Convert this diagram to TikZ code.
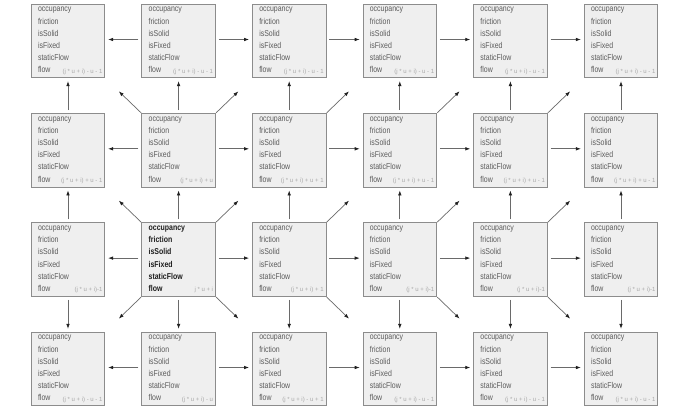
\documentclass[tikz,border=0pt]{standalone}
\usepackage{fontspec}
\usetikzlibrary{arrows.meta}
\newfontfamily\cellfont[FakeStretch=0.82]{Liberation Sans}
\newfontfamily\idxfont{Liberation Sans}
\definecolor{cellfill}{HTML}{EFEFEF}
\definecolor{cellline}{HTML}{8C8C8C}
\definecolor{celltext}{HTML}{5C5C5C}
\definecolor{boldtext}{HTML}{1E1E1E}
\definecolor{idxcol}{HTML}{A8A8A8}
\definecolor{arrline}{HTML}{6A6A6A}
\definecolor{arrhead}{HTML}{202020}
\newcommand\fieldstack{\vtop{\baselineskip=12.2pt\lineskiplimit=-20pt\lineskip=0pt
  \hbox{occupancy}\hbox{friction}\hbox{isSolid}\hbox{isFixed}\hbox{staticFlow}\hbox{flow}}}
\newcommand\cell[5]{%
  \node[cellbox] (b#1) at (#2,-#3) {};
  \node[fieldtext,#5,anchor=base west] (t#1) at ([shift={(7pt,-8pt)}]b#1.north west) {\fieldstack};
  \node[idxtext,anchor=base east] (l#1) at ([shift={(-2.5pt,5pt)}]b#1.south east) {#4};
}
\begin{document}
\begin{tikzpicture}[x=1pt,y=1pt,
  cellbox/.style={draw=cellline, fill=cellfill, line width=0.8pt, minimum width=73.5pt, minimum height=73.5pt, inner sep=0pt},
  fieldtext/.style={inner sep=0pt, font=\cellfont\fontsize{8.5}{12.2}\selectfont, text=celltext},
  boldfields/.style={font=\cellfont\bfseries\fontsize{8.5}{12.2}\selectfont, text=boldtext},
  idxtext/.style={inner sep=0pt, font=\idxfont\fontsize{6}{7}\selectfont, text=idxcol},
  arr/.style={draw=arrline, line width=0.7pt, -{Latex[length=5pt,width=3.6pt,color=arrhead]}, shorten >=3pt, shorten <=3pt},
  diag/.style={arr, shorten >=19pt, shorten <=0.5pt}]
\fill[white] (0,0) rectangle (699,-413);
\useasboundingbox (0,0) rectangle (699,-413);
% row 1
\cell{11}{68}{41}{(j * u + i) - u - 1}{}
\cell{12}{178.6}{41}{(j * u + i) - u - 1}{}
\cell{13}{289.2}{41}{(j * u + i) - u - 1}{}
\cell{14}{399.8}{41}{(j * u + i) - u - 1}{}
\cell{15}{510.4}{41}{(j * u + i) - u - 1}{}
\cell{16}{621}{41}{(j * u + i) - u - 1}{}
% row 2
\cell{21}{68}{150.3}{(j * u + i) + u - 1}{}
\cell{22}{178.6}{150.3}{(j * u + i) + u}{}
\cell{23}{289.2}{150.3}{(j * u + i) + u + 1}{}
\cell{24}{399.8}{150.3}{(j * u + i) + u - 1}{}
\cell{25}{510.4}{150.3}{(j * u + i) + u - 1}{}
\cell{26}{621}{150.3}{(j * u + i) + u - 1}{}
% row 3
\cell{31}{68}{259.6}{(j * u + i)-1}{}
\cell{32}{178.6}{259.6}{j * u + i}{boldfields}
\cell{33}{289.2}{259.6}{(j * u + i) + 1}{}
\cell{34}{399.8}{259.6}{(j * u + i)-1}{}
\cell{35}{510.4}{259.6}{(j * u + i)-1}{}
\cell{36}{621}{259.6}{(j * u + i)-1}{}
% row 4
\cell{41}{68}{369}{(j * u + i) - u - 1}{}
\cell{42}{178.6}{369}{(j * u + i) - u}{}
\cell{43}{289.2}{369}{(j * u + i) - u + 1}{}
\cell{44}{399.8}{369}{(j * u + i) - u - 1}{}
\cell{45}{510.4}{369}{(j * u + i) - u - 1}{}
\cell{46}{621}{369}{(j * u + i) - u - 1}{}
% horizontal connectors
\foreach \r in {1,2,3,4}{
  \draw[arr] ([yshift=1.5pt]b\r2.west) -- ([yshift=1.5pt]b\r1.east);
  \foreach \c in {2,3,4,5}{
    \pgfmathtruncatemacro\n{\c+1}
    \draw[arr] ([yshift=1.5pt]b\r\c.east) -- ([yshift=1.5pt]b\r\n.west);
  }
}
% vertical connectors
\foreach \c in {1,...,6}{
  \draw[arr] (b2\c.north) -- (b1\c.south);
  \draw[arr] (b3\c.north) -- (b2\c.south);
  \draw[arr] (b3\c.south) -- (b4\c.north);
}
% diagonal connectors
\draw[diag] (b22.north west) -- (b11.south east);
\draw[diag] (b32.north west) -- (b21.south east);
\draw[diag] (b32.south west) -- (b41.north east);
\foreach \c in {2,3,4,5}{
  \pgfmathtruncatemacro\n{\c+1}
  \draw[diag] (b2\c.north east) -- (b1\n.south west);
  \draw[diag] (b3\c.north east) -- (b2\n.south west);
  \draw[diag] (b3\c.south east) -- (b4\n.north west);
}
\end{tikzpicture}
\end{document}
